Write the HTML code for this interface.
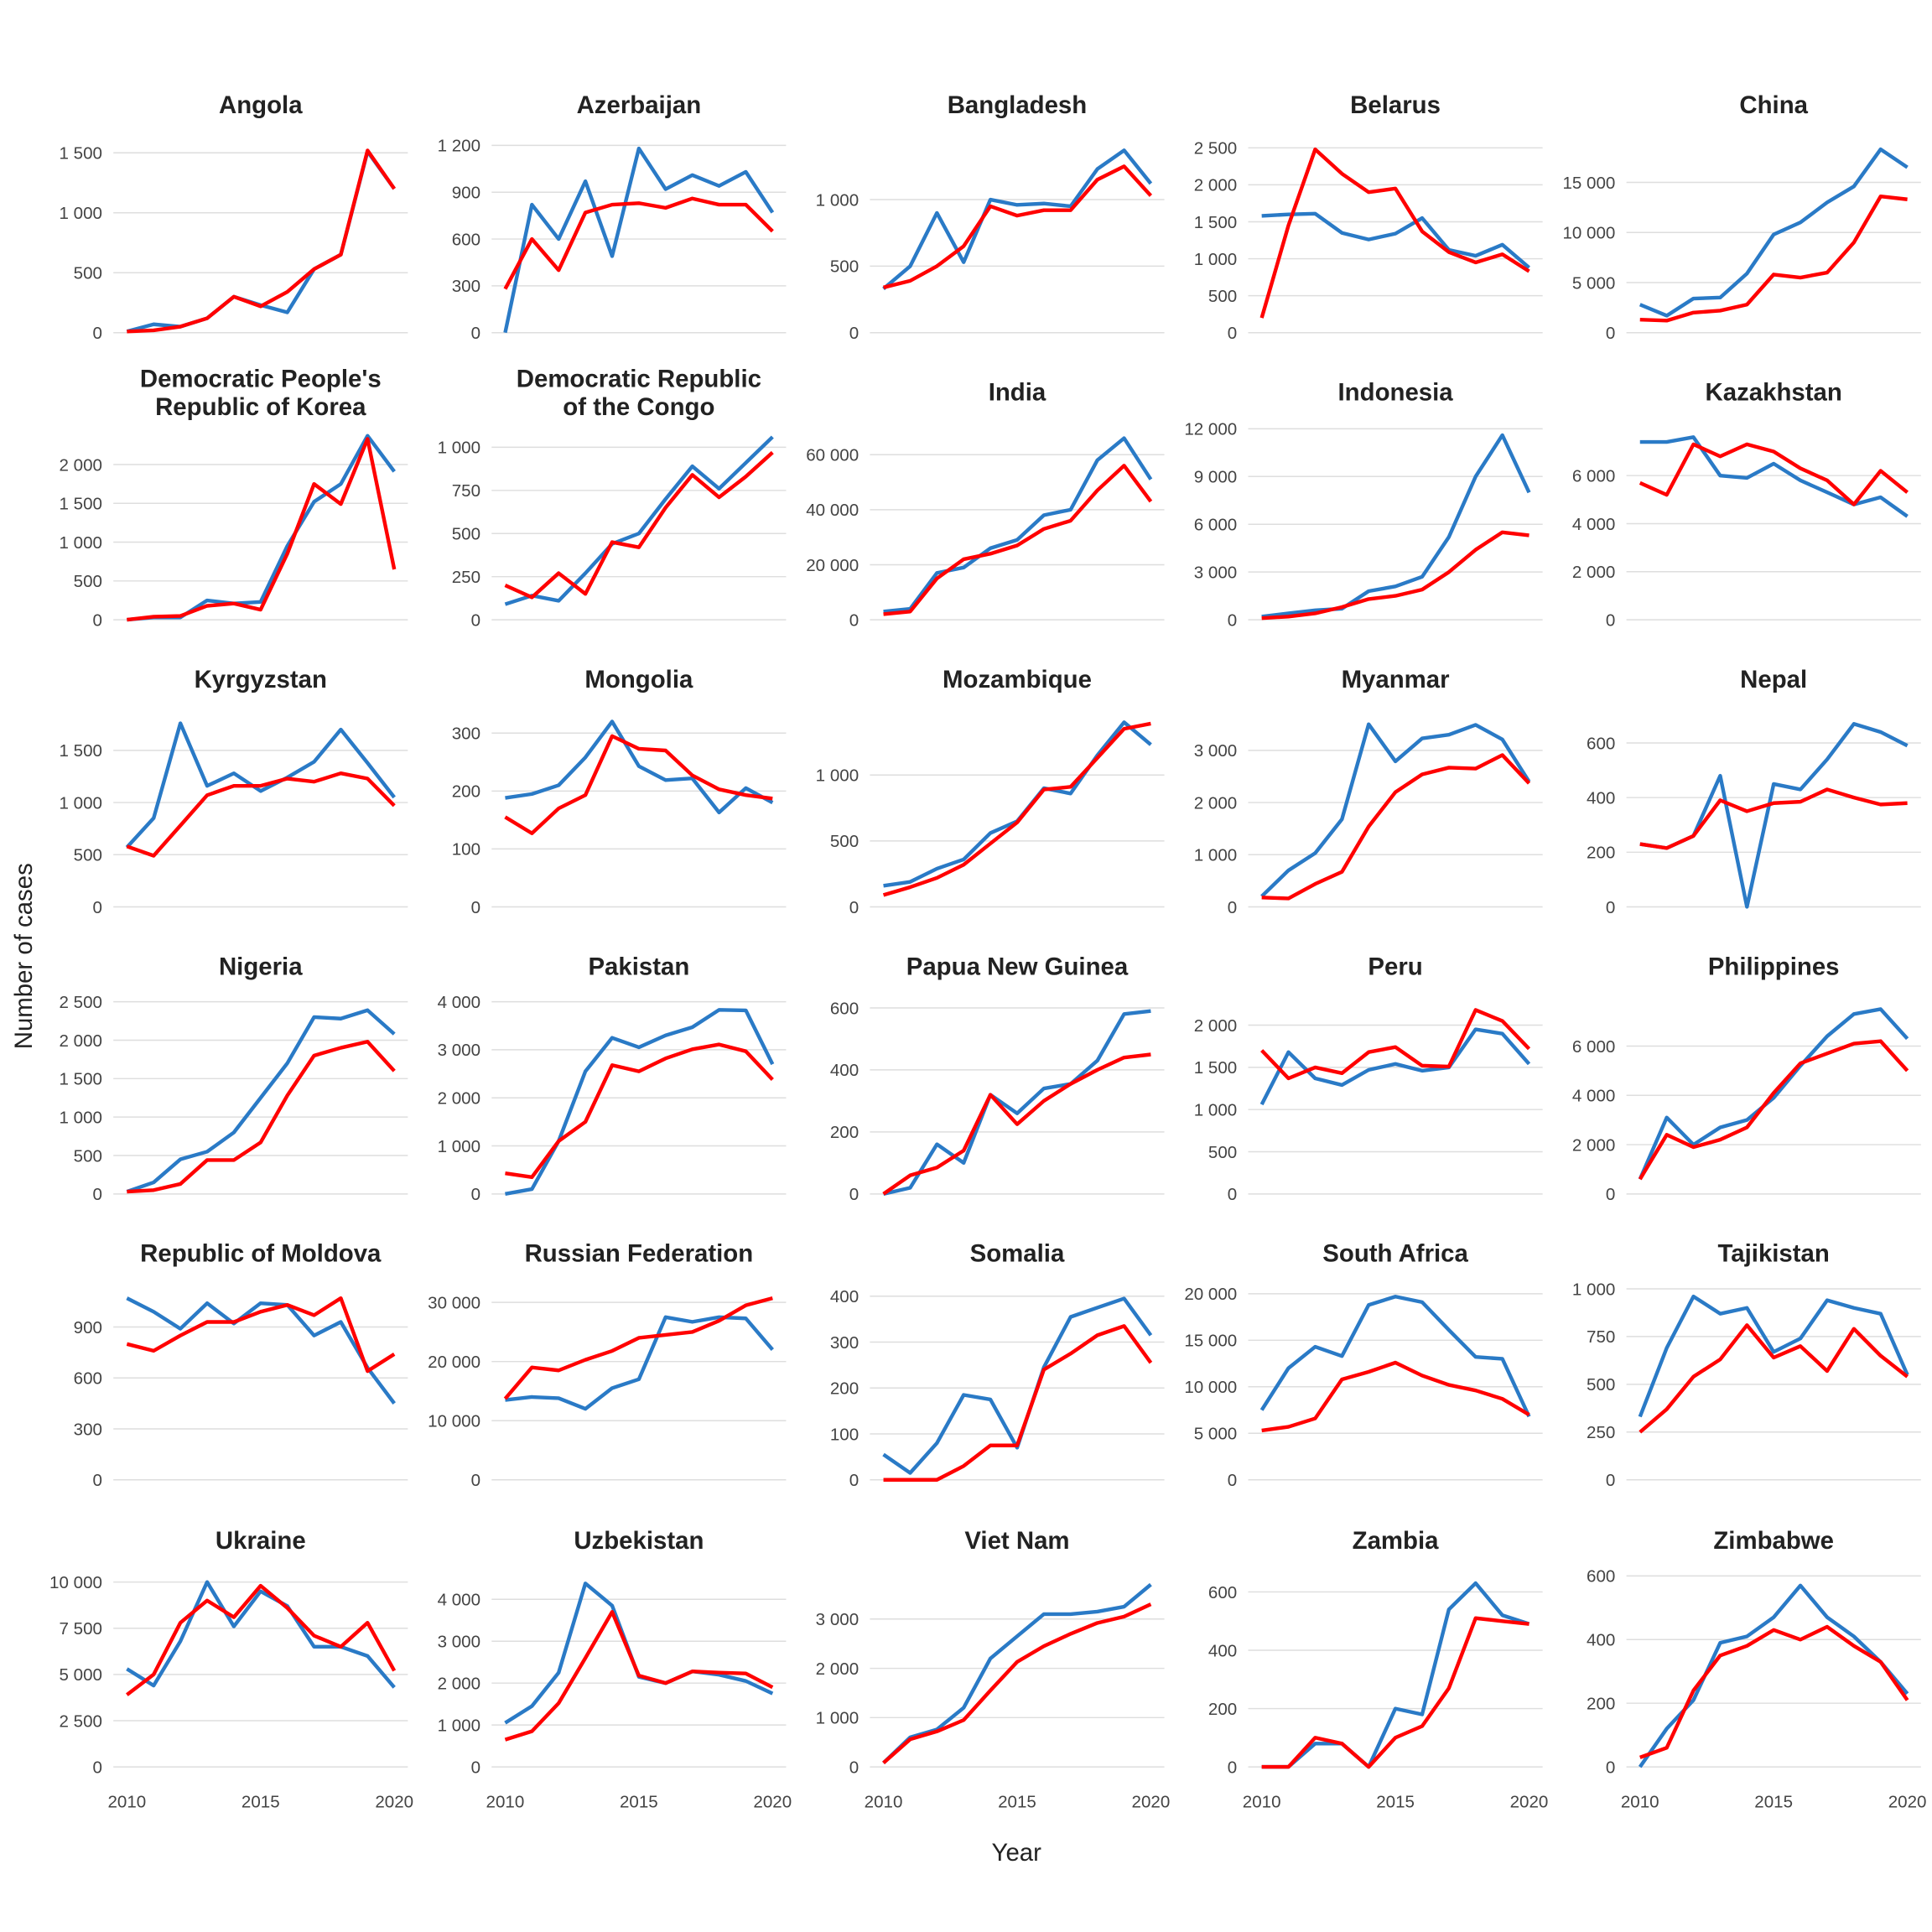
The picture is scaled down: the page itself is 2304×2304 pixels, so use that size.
<!DOCTYPE html>
<html><head><meta charset="utf-8"><style>
html,body{margin:0;padding:0;background:#fff}
svg{display:block}
text{font-family:"Liberation Sans",Arial,sans-serif}
</style></head><body>
<svg id="s" width="2304" height="2304" viewBox="0 0 1568 1568" xmlns="http://www.w3.org/2000/svg"></svg>
<script>
const P=[
["Angola",[0,500,1000,1500],146,[10,70,50,120,300,230,170,530,650,1510,1200],[10,20,50,120,300,220,340,530,650,1520,1200]],
["Azerbaijan",[0,300,600,900,1200],152,[0,820,600,970,490,1180,920,1010,940,1030,770],[280,600,400,770,820,830,800,860,820,820,650]],
["Bangladesh",[0,500,1000],108,[330,500,900,530,1000,960,970,950,1230,1370,1120],[340,390,500,650,950,880,920,920,1150,1250,1030]],
["Belarus",[0,500,1000,1500,2000,2500],150,[1580,1600,1610,1350,1260,1340,1550,1120,1040,1190,880],[200,1450,2480,2150,1900,1950,1370,1090,950,1060,830]],
["China",[0,5000,10000,15000],122,[2800,1700,3400,3500,5900,9800,11000,13000,14600,18300,16500],[1300,1200,2000,2200,2800,5800,5500,6000,9000,13600,13300]],
["Democratic People's|Republic of Korea",[0,500,1000,1500,2000],126,[0,30,30,250,210,230,950,1520,1750,2370,1910],[0,40,50,180,210,130,850,1750,1490,2330,650]],
["Democratic Republic|of the Congo",[0,250,500,750,1000],140,[90,140,110,270,440,500,700,890,760,910,1060],[200,130,270,150,450,420,650,840,710,830,970]],
["India",[0,20000,40000,60000],134,[3000,4000,17000,19000,26000,29000,38000,40000,58000,66000,51000],[2000,3000,15000,22000,24000,27000,33000,36000,47000,56000,43000]],
["Indonesia",[0,3000,6000,9000,12000],155,[200,400,600,700,1800,2100,2700,5200,9000,11600,8000],[100,200,400,800,1300,1500,1900,3000,4400,5500,5300]],
["Kazakhstan",[0,2000,4000,6000],117,[7400,7400,7600,6000,5900,6500,5800,5300,4800,5100,4300],[5700,5200,7300,6800,7300,7000,6300,5800,4800,6200,5300]],
["Kyrgyzstan",[0,500,1000,1500],127,[570,850,1760,1160,1280,1110,1240,1390,1700,1380,1050],[580,490,780,1070,1160,1160,1230,1200,1280,1230,970]],
["Mongolia",[0,100,200,300],141,[188,195,210,258,320,243,219,222,163,205,180],[155,127,170,193,295,273,270,227,203,193,187]],
["Mozambique",[0,500,1000],107,[160,190,290,360,560,650,900,860,1150,1400,1230],[90,150,220,320,480,640,890,910,1130,1350,1390]],
["Myanmar",[0,1000,2000,3000],127,[200,700,1030,1680,3500,2790,3230,3300,3490,3210,2400],[180,160,440,670,1540,2200,2540,2670,2650,2910,2370]],
["Nepal",[0,200,400,600],133,[230,215,260,480,0,450,430,540,670,640,590],[230,215,260,390,350,380,385,430,400,375,380]],
["Nigeria",[0,500,1000,1500,2000,2500],156,[30,150,450,550,800,1250,1700,2300,2280,2390,2080],[30,50,130,440,440,670,1280,1800,1900,1980,1600]],
["Pakistan",[0,1000,2000,3000,4000],156,[0,100,1100,2550,3250,3050,3300,3470,3830,3820,2700],[430,350,1100,1500,2680,2550,2820,3010,3110,2970,2380]],
["Papua New Guinea",[0,200,400,600],151,[0,20,160,100,320,260,340,355,430,580,590],[0,60,85,140,320,225,300,355,400,440,450]],
["Peru",[0,500,1000,1500,2000],137,[1060,1680,1370,1290,1470,1540,1460,1500,1950,1900,1540],[1700,1370,1500,1430,1680,1740,1520,1510,2180,2050,1720]],
["Philippines",[0,2000,4000,6000],120,[600,3100,2000,2700,3000,3900,5200,6400,7300,7500,6300],[600,2400,1900,2200,2700,4100,5300,5700,6100,6200,5000]],
["Republic of Moldova",[0,300,600,900],124,[1070,990,890,1040,920,1040,1030,850,930,660,450],[800,760,850,930,930,990,1030,970,1070,640,740]],
["Russian Federation",[0,10000,20000,30000],144,[13500,14000,13800,12000,15500,17000,27500,26700,27500,27300,22000],[13700,19000,18500,20300,21800,24000,24500,25000,26900,29500,30700]],
["Somalia",[0,100,200,300,400],149,[55,15,80,185,175,70,245,355,375,395,315],[0,0,0,30,75,75,240,275,315,335,255]],
["South Africa",[0,5000,10000,15000,20000],151,[7500,12000,14300,13300,18800,19700,19100,16100,13200,13000,6800],[5300,5700,6600,10800,11600,12600,11200,10200,9600,8700,7000]],
["Tajikistan",[0,250,500,750,1000],155,[330,690,960,870,900,670,740,940,900,870,550],[250,370,540,630,810,640,700,570,790,650,540]],
["Ukraine",[0,2500,5000,7500,10000],150,[5300,4400,6800,10000,7600,9500,8700,6500,6500,6000,4300],[3900,5000,7800,9000,8100,9800,8600,7100,6500,7800,5200]],
["Uzbekistan",[0,1000,2000,3000,4000],136,[1050,1450,2250,4380,3850,2150,2000,2280,2200,2050,1750],[650,850,1520,2600,3700,2180,2000,2280,2250,2230,1900]],
["Viet Nam",[0,1000,2000,3000],120,[80,600,760,1200,2200,2650,3100,3100,3150,3250,3700],[80,560,720,950,1550,2130,2450,2700,2920,3050,3300]],
["Zambia",[0,200,400,600],142,[0,0,80,80,0,200,180,540,630,520,490],[0,0,100,80,0,100,140,270,510,500,490]],
["Zimbabwe",[0,200,400,600],155,[0,120,210,390,410,470,570,470,410,330,230],[30,60,240,350,380,430,400,440,380,330,210]]
];
function fmt(v){return String(v).replace(/\B(?=(\d{3})+(?!\d))/g," ");}
let o='';
const zeros=[270,503,736,969,1201,1434];
P.forEach((p,i)=>{
 const c=i%5,r=Math.floor(i/5);
 const x0=103+307*c, y0=zeros[r], step=21.7;
 const top=p[1][p[1].length-1], k=p[2]/top;
 const X=j=>x0+j*step, Y=v=>y0-v*k;
 const cx=x0+108.5;
 const t=p[0].split('|');
 if(t.length==1) o+=`<text x="${cx}" y="${92+233*r}" text-anchor="middle" font-size="20" font-weight="bold" fill="#222">${t[0].replace("'","&#39;")}</text>`;
 else{o+=`<text x="${cx}" y="${314+233*(r-1)}" text-anchor="middle" font-size="20" font-weight="bold" fill="#222">${t[0].replace("'","&#39;")}</text>`;
 o+=`<text x="${cx}" y="${337+233*(r-1)}" text-anchor="middle" font-size="20" font-weight="bold" fill="#222">${t[1]}</text>`;}
 p[1].forEach(v=>{const y=Y(v);
  o+=`<line x1="${x0-11}" x2="${x0+228}" y1="${y}" y2="${y}" stroke="#dedede" stroke-width="1"/>`;
  o+=`<text x="${x0-20}" y="${y+5}" text-anchor="end" font-size="14" fill="#444">${fmt(v)}</text>`;});
 const pts=a=>a.map((v,j)=>X(j).toFixed(1)+','+Y(v).toFixed(1)).join(' ');
 o+=`<polyline points="${pts(p[3])}" fill="none" stroke="#2a7ac6" stroke-width="3" stroke-linejoin="round"/>`;
 o+=`<polyline points="${pts(p[4])}" fill="none" stroke="#ff0000" stroke-width="3" stroke-linejoin="round"/>`;
 if(r==5){[2010,2015,2020].forEach((yr,j)=>{o+=`<text x="${x0+j*108.5}" y="1467" text-anchor="middle" font-size="14" fill="#444">${yr}</text>`;});}
});
o+=`<text x="825" y="1510" text-anchor="middle" font-size="20" fill="#222">Year</text>`;
o+=`<text transform="translate(26,776) rotate(-90)" text-anchor="middle" font-size="20" fill="#222">Number of cases</text>`;
document.getElementById('s').innerHTML=o;
</script>
</body></html>
